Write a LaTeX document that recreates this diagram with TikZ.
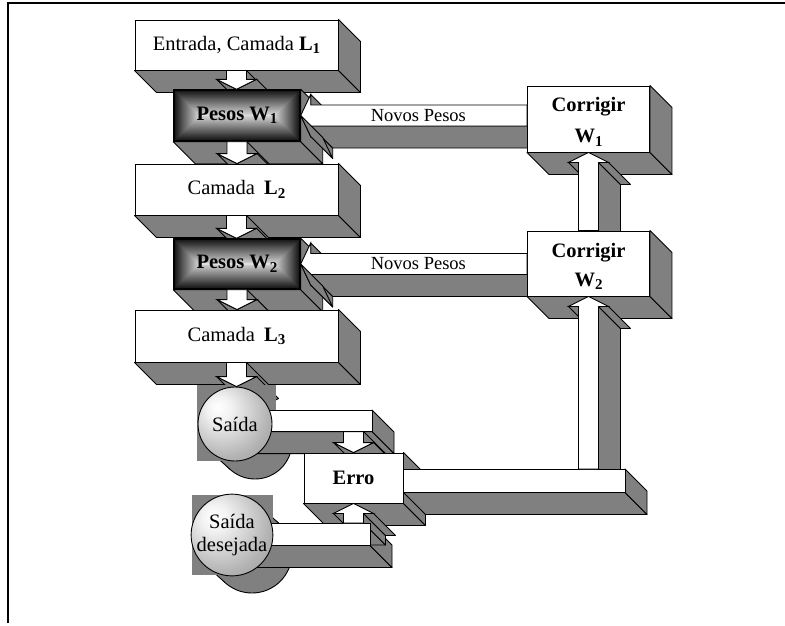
\documentclass[tikz,border=0pt]{standalone}
\usepackage{fontspec}
\setmainfont{Liberation Serif}
\usetikzlibrary{calc}
\pgfdeclarelayer{bg}\pgfdeclarelayer{mid}\pgfdeclarelayer{fg}
\pgfsetlayers{bg,mid,main,fg}
\definecolor{sidegray}{HTML}{808080}
\pgfdeclareradialshading{spheregrad}{\pgfpoint{-12bp}{12bp}}{color(0bp)=(white); color(8bp)=(white!95!black); color(30bp)=(black!30); color(50bp)=(black!44); color(75bp)=(black!48)}
\newcommand\lsub[1]{\raisebox{-3.5pt}{\fontsize{15}{15}\selectfont\bfseries #1}}
\newcommand\quadside[2]{\filldraw[side] (#1)--(#2)--([shift={(22,22)}]#2)--([shift={(22,22)}]#1)--cycle;}
\newcommand\boxext[1]{\begin{pgfonlayer}{bg}\quadside{#1.south west}{#1.south east}\quadside{#1.south east}{#1.north east}\end{pgfonlayer}}
\newcommand\vdownarrow[2]{%
 \coordinate (aS) at (#1);
 \coordinate (aT) at (aS |- #2);
 \coordinate (aB) at ($(aT)+(0,-10)$);
 \coordinate (p1) at ($(aS)+(-10,0)$);
 \coordinate (p2) at ($(aS)+(10,0)$);
 \coordinate (p3) at ($(aB)+(10,0)$);
 \coordinate (p4) at ($(aB)+(20,0)$);
 \coordinate (p5) at (aT);
 \coordinate (p6) at ($(aB)+(-20,0)$);
 \coordinate (p7) at ($(aB)+(-10,0)$);
 \begin{pgfonlayer}{bg}\quadside{p2}{p3}\quadside{p4}{p5}\quadside{p5}{p6}\end{pgfonlayer}
 \filldraw[front] (p1)--(p2)--(p3)--(p4)--(p5)--(p6)--(p7)--cycle;}
\newcommand\vuparrow[2]{%
 \coordinate (aS) at (#1);
 \coordinate (aT) at (aS |- #2);
 \coordinate (aB) at ($(aT)+(0,10)$);
 \coordinate (p1) at ($(aS)+(-10,0)$);
 \coordinate (p2) at ($(aS)+(10,0)$);
 \coordinate (p3) at ($(aB)+(10,0)$);
 \coordinate (p4) at ($(aB)+(20,0)$);
 \coordinate (p5) at (aT);
 \coordinate (p6) at ($(aB)+(-20,0)$);
 \coordinate (p7) at ($(aB)+(-10,0)$);
 \begin{pgfonlayer}{bg}\quadside{p6}{p7}\quadside{p1}{p2}\quadside{p2}{p3}\quadside{p3}{p4}\end{pgfonlayer}
 \filldraw[front] (p1)--(p2)--(p3)--(p4)--(p5)--(p6)--(p7)--cycle;}
\newcommand\larrowblk[2]{%
 \coordinate (aS) at (#1);
 \coordinate (aT) at (#2 |- aS);
 \coordinate (aB) at ($(aT)+(10,0)$);
 \coordinate (p1) at ($(aS)+(0,-10.5)$);
 \coordinate (p2) at ($(aB)+(0,-10.5)$);
 \coordinate (p3) at ($(aB)+(0,-21)$);
 \coordinate (p4) at (aT);
 \coordinate (p5) at ($(aB)+(0,21)$);
 \coordinate (p6) at ($(aB)+(0,10.5)$);
 \coordinate (p7) at ($(aS)+(0,10.5)$);
 \begin{pgfonlayer}{bg}\quadside{p2}{p3}\quadside{p5}{p6}\quadside{p6}{p7}\end{pgfonlayer}
 \filldraw[front] (p1)--(p2)--(p3)--(p4)--(p5)--(p6)--(p7)--cycle;
 \begin{pgfonlayer}{fg}\quadside{p4}{p5}\end{pgfonlayer}}
\newcommand\flatbar[2]{%
 \coordinate (bTL) at (#1); \coordinate (bBR) at (#2);
 \coordinate (bTR) at (bBR |- bTL); \coordinate (bBL) at (bTL |- bBR);
 \begin{pgfonlayer}{bg}\quadside{bBL}{bBR}\quadside{bBR}{bTR}\end{pgfonlayer}
 \begin{pgfonlayer}{mid}\filldraw[front] (bTL) rectangle (bBR);\end{pgfonlayer}}
\newcommand\cylshadow[2]{%
 \begin{pgfonlayer}{bg}
 \coordinate (cc) at (#1.center);
 \coordinate (cd) at ($(cc)+(20,18)$);
 \filldraw[side] (cd) circle (#2pt);
 \fill[sidegray] ($(cc)+(-0.669*#2,0.743*#2)$) -- ($(cc)+(0.669*#2,-0.743*#2)$) -- ($(cd)+(0.669*#2,-0.743*#2)$) -- ($(cd)+(-0.669*#2,0.743*#2)$) -- cycle;
 \draw[line width=0.9pt] ($(cc)+(-0.669*#2,0.743*#2)$) -- ($(cd)+(-0.669*#2,0.743*#2)$);
 \draw[line width=0.9pt] ($(cc)+(0.669*#2,-0.743*#2)$) -- ($(cd)+(0.669*#2,-0.743*#2)$);
 \end{pgfonlayer}}
\begin{document}
\begin{tikzpicture}[x=1pt,y=-1pt,
  side/.style={fill=sidegray, draw=black, line width=0.9pt, line join=round},
  front/.style={fill=white, draw=black, line width=0.9pt},
  box/.style={draw, fill=white, line width=0.9pt, inner sep=0pt, font=\fontsize{20.5}{23}\selectfont},
  bbox/.style={box, font=\fontsize{20.5}{23}\selectfont\bfseries, align=center},
  pesos/.style={draw, line width=1.4pt, inner sep=0pt, font=\fontsize{20.5}{23}\selectfont\bfseries,
    path picture={\foreach \i in {0,...,26}{
      \pgfmathtruncatemacro\shadeval{round(92-80*\i/26)}
      \fill[black!\shadeval] ($(path picture bounding box.north west)+(\i,\i)$) rectangle ($(path picture bounding box.south east)+(-\i,-\i)$);}}},
  sphere/.style={circle, draw, line width=0.9pt, shading=spheregrad, inner sep=0pt, align=center, font=\fontsize{20.5}{23}\selectfont},
  nplabel/.style={inner sep=0pt, font=\fontsize{18.5}{20}\selectfont}]
\useasboundingbox (0,0) rectangle (785,625);
\draw[line width=2pt] (8.3,623) -- (8.3,3) -- (785,3);
% left column
\node[box, minimum width=203, minimum height=50] (L1) at (236.5,45) {Entrada, Camada \textbf{L}\lsub{1}};
\boxext{L1}
\node[pesos, minimum width=126, minimum height=51] (P1) at (237,115.5) {Pesos W\lsub{1}};
\vdownarrow{L1.south}{P1.north}
\boxext{P1}
\node[box, minimum width=203, minimum height=51] (L2) at (236.5,189.5) {Camada\hspace{0.45em}\textbf{L}\lsub{2}};
\vdownarrow{P1.south}{L2.north}
\boxext{L2}
\node[pesos, minimum width=126, minimum height=50] (P2) at (237,264) {Pesos W\lsub{2}};
\vdownarrow{L2.south}{P2.north}
\boxext{P2}
\node[box, minimum width=203, minimum height=52] (L3) at (236.5,336) {Camada\hspace{0.45em}\textbf{L}\lsub{3}};
\vdownarrow{P2.south}{L3.north}
\boxext{L3}
% Saida
\node[sphere, minimum size=74] (S) at (235,424) {Saída};
\vdownarrow{L3.south}{S.north}
\cylshadow{S}{37}
\begin{pgfonlayer}{bg}\fill[sidegray] ($(S.center)+(-38,-39)$) rectangle ($(S.center)+(41,37)$);\end{pgfonlayer}
% Erro
\node[bbox, minimum width=99, minimum height=50] (E) at (353.5,478) {Erro};
\flatbar{$(S.center)+(0,-14)$}{$(E.north)+(18.5,-21)$}
\vdownarrow{E.north |- bBR}{E.north}
\boxext{E}
% Saida desejada
\node[sphere, minimum size=80] (D) at (232,535) {Saída\\desejada};
\cylshadow{D}{40}
\begin{pgfonlayer}{bg}\fill[sidegray] ($(D.center)+(-40,-40)$) rectangle ($(D.center)+(41,40)$);\end{pgfonlayer}
\flatbar{$(D.center)+(0,-12)$}{$(E.south)+(16.5,42)$}
\vuparrow{E.south |- bTL}{E.south}
% Corrigir boxes
\node[bbox, minimum width=122, minimum height=66] (C1) at (588.5,119) {\rule{0pt}{20pt}Corrigir\\[8pt]W\lsub{1}};
\boxext{C1}
\larrowblk{C1.west |- P1.east}{P1.east}
\node[nplabel] (np1) at ($(P1.east)!0.52!(C1.west |- P1.east)$) {Novos Pesos};
\node[bbox, minimum width=122, minimum height=65] (C2) at (588.5,263.5) {\rule{0pt}{20pt}Corrigir\\[6pt]W\lsub{2}};
\vuparrow{C2.north}{C1.south}
\boxext{C2}
\larrowblk{C2.west |- P2.east}{P2.east}
\node[nplabel] (np2) at ($(P2.east)!0.52!(C2.west |- P2.east)$) {Novos Pesos};
% Erro to Corrigir W2
\flatbar{$(E.east)+(0,-9)$}{$(C2.south)+(36.5,196)$}
\vuparrow{C2.south |- bTL}{C2.south}
\end{tikzpicture}
\end{document}
